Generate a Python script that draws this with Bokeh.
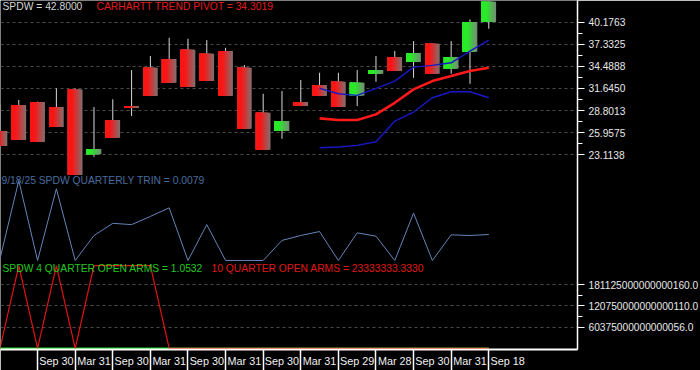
import numpy as np
from bokeh.plotting import figure
from bokeh.models import Range1d, FixedTicker, Label, PrintfTickFormatter
from bokeh.embed import file_html
from bokeh.resources import INLINE

FONT = "Liberation Sans"
FS_TXT = "10.3px"
FS_TICK = "10.2px"
FS_X = "10.8px"

# ---------------- data ----------------
candle_idx = list(range(27))
opens = [26.16, 29.51, 29.89, 29.25, 31.52, 23.17, 27.58, 29.38, 34.30, 35.42, 36.62, 36.10, 36.45, 34.30,
         28.52, 26.16, 29.89, 32.08, 32.50, 30.75, 33.53, 35.68, 35.04, 37.39, 34.17, 36.36, 40.18]
highs = [29.60, 30.15, 29.95, 31.65, 31.65, 29.25, 30.24, 34.01, 35.81, 38.16, 38.03, 37.86, 36.87, 34.65,
         30.96, 31.31, 32.72, 33.66, 33.66, 34.01, 35.81, 36.45, 37.73, 37.45, 37.73, 40.52, 42.90]
lows = [24.23, 25.01, 24.75, 26.68, 20.50, 22.86, 25.30, 28.09, 30.66, 32.37, 31.82, 32.59, 30.66, 26.46,
        23.76, 25.17, 29.38, 30.66, 29.25, 29.38, 32.50, 33.88, 33.01, 33.53, 33.53, 32.24, 39.32]
closes = [24.23, 25.01, 24.75, 26.68, 20.50, 23.85, 25.30, 29.12, 30.66, 32.37, 31.82, 32.59, 30.66, 26.46,
          23.76, 27.45, 29.38, 30.66, 29.25, 32.37, 34.01, 33.88, 36.19, 33.53, 35.68, 40.18, 42.80]

band_idx = [17, 18, 19, 20, 21, 22, 23, 24, 25, 26]
upper_band = [31.65, 30.96, 30.75, 31.65, 32.59, 34.39, 34.61, 34.94, 36.45, 37.86]
trend_pivot = [27.80, 27.58, 27.58, 28.31, 29.80, 31.52, 32.59, 33.23, 33.88, 34.3019]
lower_band = [24.02, 24.11, 24.33, 24.79, 27.45, 28.61, 30.45, 31.22, 31.22, 30.45]

trin = [0.0005, 0.0243, 0.0000, 0.0218, 0.0000, 0.0076, 0.0113, 0.0109, 0.0134, 0.0160, 0.0000, 0.0109,
        0.0000, 0.0000, 0.0000, 0.0061, 0.0076, 0.0088, 0.0000, 0.0084, 0.0074, 0.0000, 0.0144, 0.0000,
        0.0078, 0.0076, 0.0079]
trin_date = "9/18/25"

arms4 = [1.0, 1.0, 1.0, 1.0, 1.0, 1.0, 1.0, 1.0, 1.0, 1.0, 1.0, 1.0, 1.0, 1.0, 1.0, 1.0, 1.0, 1.0,
         1.0, 1.0, 1.0, 1.0, 1.0, 1.0, 1.0, 1.0, 1.0532]
arms10 = [0.0, 2.36e17, 0.0, 2.36e17, 0.0, 2.36e17, 2.36e17, 2.36e17, 2.36e17, 0.0, 0.0, 0.0, 0.0, 0.0,
          0.0, 0.0, 0.0, 0.0, 0.0, 0.0, 0.0, 0.0, 0.0, 0.0, 0.0, 0.0, 23333333.333]

price_ticks = [23.1138, 25.9575, 28.8013, 31.6450, 34.4888, 37.3325, 40.1763]
arms_ticks = [6.0375e16, 1.2075e17, 1.81125e17]
arms_tick_labels = ["60375000000000056.0", "120750000000000110.0", "181125000000000160.0"]

date_tick_idx = [2, 4, 6, 8, 10, 12, 14, 16, 18, 20, 22, 24, 26]
date_labels = ["Sep 30", "Mar 31", "Sep 30", "Mar 31", "Sep 30", "Mar 31", "Sep 30", "Mar 31",
               "Sep 29", "Mar 28", "Sep 30", "Mar 31", "Sep 18"]

# ---------------- ranges: three stacked panels in one frame ----------------
x_range = Range1d(0.027, 30.72)
price_range = Range1d(-1.920, 42.95)
trin_range = Range1d(-0.027043, 0.079001)
arms_range = Range1d(-3.133e15, 9.9077e17)

p = figure(frame_width=577, frame_height=349, x_range=x_range, y_range=price_range,
           y_axis_location="right", x_axis_location="below",
           toolbar_location=None, output_backend="svg",
           background_fill_color="black", border_fill_color="black",
           min_border_left=0, min_border_top=0, min_border_bottom=21, min_border_right=123)
p.extra_y_ranges = {"trin": trin_range, "arms": arms_range}
p.outline_line_color = None


def arms_to_price(v):
    f = (v - arms_range.start) / (arms_range.end - arms_range.start)
    return price_range.start + f * (price_range.end - price_range.start)


arms_pos = [arms_to_price(v) for v in arms_ticks]
arms_minor = [arms_to_price((a + b) / 2) for a, b in zip(arms_ticks[:-1], arms_ticks[1:])]
price_minor = [(a + b) / 2 for a, b in zip(price_ticks[:-1], price_ticks[1:])]

ax = p.yaxis[0]
ax.ticker = FixedTicker(ticks=price_ticks + arms_pos, minor_ticks=price_minor + arms_minor)
ax.formatter = PrintfTickFormatter(format="%.4f")
ax.major_label_overrides = {pos: s for pos, s in zip(arms_pos, arms_tick_labels)}
ax.axis_line_color = "white"
ax.axis_line_width = 1.5
ax.major_tick_line_color = "white"
ax.minor_tick_line_color = "white"
ax.major_tick_out = 7
ax.major_tick_in = 0
ax.minor_tick_out = 5
ax.minor_tick_in = 0
ax.major_label_text_color = "#e8e8e8"
ax.major_label_text_font = FONT
ax.major_label_text_font_size = FS_TICK
ax.major_label_standoff = 4

p.ygrid.ticker = FixedTicker(ticks=price_ticks + arms_pos)
p.ygrid.grid_line_color = "#4a4a4a"
p.ygrid.grid_line_dash = "3 3"
p.xgrid.visible = False

# ---- candles ----
o = np.array(opens); c = np.array(closes); hi = np.array(highs); lo = np.array(lows)
k = np.array(candle_idx, dtype=float)
p.segment(x0=k, y0=lo, x1=k, y1=hi, line_color="#d8d8d8", line_width=1)

BW = 0.78
N = 12


def lerp(c1, c2, t):
    return "#%02x%02x%02x" % tuple(int(round(a + (b - a) * t)) for a, b in zip(c1, c2))


for mask, cl, cr in [(c < o, (250, 22, 22), (128, 112, 112)), (c >= o, (40, 235, 40), (118, 138, 118))]:
    kk = k[mask]
    top = np.maximum(o, c)[mask]
    bot = np.minimum(o, c)[mask]
    for j in range(N):
        wj = BW * (1 - j / N)
        t = 1 - (j + 0.5) / N
        tt = min(max((t - 0.3) / 0.7, 0.0), 1.0)
        p.vbar(x=kk - BW / 2 + wj / 2, width=wj, top=top, bottom=bot,
               fill_color=lerp(cl, cr, tt), line_color=None)

bi = np.array(band_idx, dtype=float)
p.line(bi, lower_band, line_color="#1818c8", line_width=1.4)
p.line(bi, upper_band, line_color="#1818c8", line_width=1.4)
p.line(bi, trend_pivot, line_color="#ff1a1a", line_width=2.6)

# ---- TRIN ----
p.line(k, trin, line_color="#6484b8", line_width=1, y_range_name="trin")

# ---- open arms ----
p.line(k, arms4, line_color="#22cc22", line_width=1.6, y_range_name="arms")
p.line(k, arms10, line_color="#e01414", line_width=1.2, y_range_name="arms")

# ---- panel titles ----
p.add_layout(Label(x=x_range.start, y=price_range.end, x_offset=2, text=f"SPDW = {closes[-1]:.4f}",
                   text_font=FONT, text_font_size=FS_TXT, text_color="#d6d6d6", text_baseline="top"))
p.add_layout(Label(x=x_range.start, y=price_range.end, x_offset=96,
                   text=f"CARHARTT TREND PIVOT = {trend_pivot[-1]:.4f}",
                   text_font=FONT, text_font_size=FS_TXT, text_color="#e41c1c", text_baseline="top"))
p.add_layout(Label(x=x_range.start, y=0.025949, y_range_name="trin", x_offset=1,
                   text=f"{trin_date}  SPDW QUARTERLY TRIN = {trin[-1]:.4f}",
                   text_font=FONT, text_font_size=FS_TXT, text_color="#4a6c9e", text_baseline="top"))
p.add_layout(Label(x=x_range.start, y=2.4292e17, y_range_name="arms", x_offset=2,
                   text=f"SPDW 4 QUARTER OPEN ARMS = {arms4[-1]:.4f}",
                   text_font=FONT, text_font_size=FS_TXT, text_color="#22c822", text_baseline="top"))
p.add_layout(Label(x=x_range.start, y=2.4292e17, y_range_name="arms", x_offset=211,
                   text=f"10 QUARTER OPEN ARMS = {arms10[-1]:.4f}",
                   text_font=FONT, text_font_size=FS_TXT, text_color="#e01818", text_baseline="top"))

# ---- date axis ----
xa = p.xaxis[0]
xa.ticker = FixedTicker(ticks=[t + 1 for t in date_tick_idx], minor_ticks=date_tick_idx)
xa.major_label_overrides = {t + 1: s for t, s in zip(date_tick_idx, date_labels)}
xa.axis_line_color = "white"
xa.axis_line_width = 2
xa.major_tick_line_color = None
xa.major_tick_out = 0
xa.major_tick_in = 0
xa.minor_tick_line_color = "white"
xa.minor_tick_line_width = 1.5
xa.minor_tick_out = 21
xa.minor_tick_in = 0
xa.major_label_standoff = -16
xa.major_label_text_color = "#f0f0f0"
xa.major_label_text_font = FONT
xa.major_label_text_font_size = FS_X

open("out.html", "w").write(file_html(p, INLINE))
